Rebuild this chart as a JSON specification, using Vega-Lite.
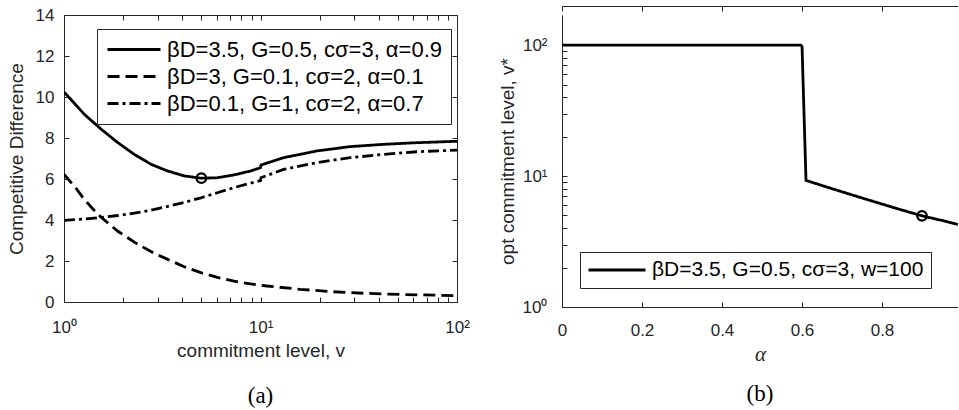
{
  "$schema": "https://vega.github.io/schema/vega-lite/v6.json",
  "background": "white",
  "padding": {"left": 7, "top": 5, "right": 0, "bottom": 0},
  "datasets": {
    "curves": [
      {"s": "βD=3.5, G=0.5, cσ=3, α=0.9", "v": 1, "cd": 10.25},
      {"s": "βD=3.5, G=0.5, cσ=3, α=0.9", "v": 1.27, "cd": 9.15},
      {"s": "βD=3.5, G=0.5, cσ=3, α=0.9", "v": 1.55, "cd": 8.42},
      {"s": "βD=3.5, G=0.5, cσ=3, α=0.9", "v": 1.88, "cd": 7.77},
      {"s": "βD=3.5, G=0.5, cσ=3, α=0.9", "v": 2.28, "cd": 7.2},
      {"s": "βD=3.5, G=0.5, cσ=3, α=0.9", "v": 2.77, "cd": 6.72},
      {"s": "βD=3.5, G=0.5, cσ=3, α=0.9", "v": 3.37, "cd": 6.39},
      {"s": "βD=3.5, G=0.5, cσ=3, α=0.9", "v": 4.09, "cd": 6.15},
      {"s": "βD=3.5, G=0.5, cσ=3, α=0.9", "v": 4.97, "cd": 6.04},
      {"s": "βD=3.5, G=0.5, cσ=3, α=0.9", "v": 6.03, "cd": 6.06},
      {"s": "βD=3.5, G=0.5, cσ=3, α=0.9", "v": 7.33, "cd": 6.2},
      {"s": "βD=3.5, G=0.5, cσ=3, α=0.9", "v": 8.9, "cd": 6.39},
      {"s": "βD=3.5, G=0.5, cσ=3, α=0.9", "v": 10, "cd": 6.55},
      {"s": "βD=3.5, G=0.5, cσ=3, α=0.9", "v": 10.05, "cd": 6.68},
      {"s": "βD=3.5, G=0.5, cσ=3, α=0.9", "v": 13.1, "cd": 7.04},
      {"s": "βD=3.5, G=0.5, cσ=3, α=0.9", "v": 19.4, "cd": 7.37},
      {"s": "βD=3.5, G=0.5, cσ=3, α=0.9", "v": 28.6, "cd": 7.58},
      {"s": "βD=3.5, G=0.5, cσ=3, α=0.9", "v": 42.2, "cd": 7.69},
      {"s": "βD=3.5, G=0.5, cσ=3, α=0.9", "v": 62.2, "cd": 7.77},
      {"s": "βD=3.5, G=0.5, cσ=3, α=0.9", "v": 100, "cd": 7.84},
      {"s": "βD=3, G=0.1, cσ=2, α=0.1", "v": 1, "cd": 6.23},
      {"s": "βD=3, G=0.1, cσ=2, α=0.1", "v": 1.15, "cd": 5.55},
      {"s": "βD=3, G=0.1, cσ=2, α=0.1", "v": 1.27, "cd": 5.0},
      {"s": "βD=3, G=0.1, cσ=2, α=0.1", "v": 1.4, "cd": 4.55},
      {"s": "βD=3, G=0.1, cσ=2, α=0.1", "v": 1.55, "cd": 4.12},
      {"s": "βD=3, G=0.1, cσ=2, α=0.1", "v": 1.88, "cd": 3.45},
      {"s": "βD=3, G=0.1, cσ=2, α=0.1", "v": 2.28, "cd": 2.92},
      {"s": "βD=3, G=0.1, cσ=2, α=0.1", "v": 2.77, "cd": 2.46},
      {"s": "βD=3, G=0.1, cσ=2, α=0.1", "v": 3.37, "cd": 2.08},
      {"s": "βD=3, G=0.1, cσ=2, α=0.1", "v": 4.09, "cd": 1.72},
      {"s": "βD=3, G=0.1, cσ=2, α=0.1", "v": 4.97, "cd": 1.43},
      {"s": "βD=3, G=0.1, cσ=2, α=0.1", "v": 6.03, "cd": 1.2},
      {"s": "βD=3, G=0.1, cσ=2, α=0.1", "v": 7.33, "cd": 1.02},
      {"s": "βD=3, G=0.1, cσ=2, α=0.1", "v": 8.9, "cd": 0.88},
      {"s": "βD=3, G=0.1, cσ=2, α=0.1", "v": 10.8, "cd": 0.78},
      {"s": "βD=3, G=0.1, cσ=2, α=0.1", "v": 15.9, "cd": 0.62},
      {"s": "βD=3, G=0.1, cσ=2, α=0.1", "v": 23.5, "cd": 0.5},
      {"s": "βD=3, G=0.1, cσ=2, α=0.1", "v": 34.7, "cd": 0.42},
      {"s": "βD=3, G=0.1, cσ=2, α=0.1", "v": 51.2, "cd": 0.37},
      {"s": "βD=3, G=0.1, cσ=2, α=0.1", "v": 100, "cd": 0.31},
      {"s": "βD=0.1, G=1, cσ=2, α=0.7", "v": 1, "cd": 3.98},
      {"s": "βD=0.1, G=1, cσ=2, α=0.7", "v": 1.27, "cd": 4.05},
      {"s": "βD=0.1, G=1, cσ=2, α=0.7", "v": 1.55, "cd": 4.13},
      {"s": "βD=0.1, G=1, cσ=2, α=0.7", "v": 1.88, "cd": 4.22},
      {"s": "βD=0.1, G=1, cσ=2, α=0.7", "v": 2.28, "cd": 4.33},
      {"s": "βD=0.1, G=1, cσ=2, α=0.7", "v": 2.77, "cd": 4.48},
      {"s": "βD=0.1, G=1, cσ=2, α=0.7", "v": 3.37, "cd": 4.66},
      {"s": "βD=0.1, G=1, cσ=2, α=0.7", "v": 4.09, "cd": 4.86},
      {"s": "βD=0.1, G=1, cσ=2, α=0.7", "v": 4.97, "cd": 5.08},
      {"s": "βD=0.1, G=1, cσ=2, α=0.7", "v": 6.03, "cd": 5.33},
      {"s": "βD=0.1, G=1, cσ=2, α=0.7", "v": 7.33, "cd": 5.58},
      {"s": "βD=0.1, G=1, cσ=2, α=0.7", "v": 8.9, "cd": 5.8},
      {"s": "βD=0.1, G=1, cσ=2, α=0.7", "v": 10, "cd": 5.92},
      {"s": "βD=0.1, G=1, cσ=2, α=0.7", "v": 10.05, "cd": 6.06},
      {"s": "βD=0.1, G=1, cσ=2, α=0.7", "v": 13.1, "cd": 6.47},
      {"s": "βD=0.1, G=1, cσ=2, α=0.7", "v": 19.4, "cd": 6.8},
      {"s": "βD=0.1, G=1, cσ=2, α=0.7", "v": 28.6, "cd": 7.04},
      {"s": "βD=0.1, G=1, cσ=2, α=0.7", "v": 42.2, "cd": 7.2},
      {"s": "βD=0.1, G=1, cσ=2, α=0.7", "v": 62.2, "cd": 7.33},
      {"s": "βD=0.1, G=1, cσ=2, α=0.7", "v": 100, "cd": 7.41}
    ],
    "minimum": [{"v": 5, "cd": 6.04}],
    "optimal": [
      {"s": "βD=3.5, G=0.5, cσ=3, w=100", "alpha": 0, "vstar": 100},
      {"s": "βD=3.5, G=0.5, cσ=3, w=100", "alpha": 0.6, "vstar": 100},
      {"s": "βD=3.5, G=0.5, cσ=3, w=100", "alpha": 0.61, "vstar": 9.27},
      {"s": "βD=3.5, G=0.5, cσ=3, w=100", "alpha": 0.674, "vstar": 8.03},
      {"s": "βD=3.5, G=0.5, cσ=3, w=100", "alpha": 0.749, "vstar": 6.82},
      {"s": "βD=3.5, G=0.5, cσ=3, w=100", "alpha": 0.832, "vstar": 5.71},
      {"s": "βD=3.5, G=0.5, cσ=3, w=100", "alpha": 0.9, "vstar": 4.97},
      {"s": "βD=3.5, G=0.5, cσ=3, w=100", "alpha": 0.95, "vstar": 4.58},
      {"s": "βD=3.5, G=0.5, cσ=3, w=100", "alpha": 0.99, "vstar": 4.27}
    ],
    "chosen": [{"alpha": 0.9, "vstar": 4.97}]
  },
  "hconcat": [
    {
      "width": 393,
      "height": 287,
      "title": {"text": "(a)", "orient": "bottom", "font": "Liberation Serif", "fontSize": 23, "fontWeight": "normal", "color": "black", "offset": 25},
      "layer": [
        {
          "data": {"name": "curves"},
          "mark": {"type": "line", "strokeWidth": 2.8, "color": "black", "clip": true},
          "encoding": {
            "x": {
              "field": "v", "type": "quantitative",
              "scale": {"type": "log", "domain": [1, 100], "nice": false},
              "axis": {
                "orient": "bottom", "title": "commitment level, v",
                "values": [1, 2, 3, 4, 5, 6, 7, 8, 9, 10, 20, 30, 40, 50, 60, 70, 80, 90, 100],
                "labelExpr": "datum.value == 1 ? '10⁰' : datum.value == 10 ? '10¹' : datum.value == 100 ? '10²' : ''",
                "labelOverlap": false, "labelFlush": false, "labelPadding": 22, "titlePadding": 6,
                "encode": {"ticks": {"y2": {"value": {"signal": "indexof([1, 10, 100], datum.value) >= 0 ? -6 : -3.5"}}}}
              }
            },
            "y": {
              "field": "cd", "type": "quantitative",
              "scale": {"domain": [0, 14], "nice": false},
              "axis": {
                "orient": "left", "title": "Competitive Difference",
                "values": [0, 2, 4, 6, 8, 10, 12, 14],
                "labelPadding": 15, "titlePadding": 9
              }
            },
            "strokeDash": {
              "field": "s", "type": "nominal",
              "scale": {
                "domain": ["βD=3.5, G=0.5, cσ=3, α=0.9", "βD=3, G=0.1, cσ=2, α=0.1", "βD=0.1, G=1, cσ=2, α=0.7"],
                "range": [[1, 0], [12, 6], [11, 4, 3, 4]]
              },
              "legend": {
                "title": null, "orient": "none", "legendX": 33, "legendY": 14,
                "symbolType": "stroke", "symbolSize": 2809, "symbolStrokeWidth": 2.8,
                "symbolStrokeColor": "black", "labelFontSize": 22, "labelColor": "black", "labelLimit": 0,
                "labelOffset": 5, "padding": 9, "rowPadding": 4, "clipHeight": 23,
                "fillColor": "white", "strokeColor": "#262626"
              }
            }
          }
        },
        {
          "data": {"name": "minimum"},
          "mark": {"type": "point", "shape": "circle", "size": 90, "strokeWidth": 2.3, "color": "black", "filled": false, "opacity": 1},
          "encoding": {
            "x": {
              "field": "v", "type": "quantitative",
              "scale": {"type": "log", "domain": [1, 100], "nice": false},
              "axis": {
                "orient": "top", "title": null, "labels": false,
                "values": [1, 2, 3, 4, 5, 6, 7, 8, 9, 10, 20, 30, 40, 50, 60, 70, 80, 90, 100],
                "encode": {"ticks": {"y2": {"value": {"signal": "indexof([1, 10, 100], datum.value) >= 0 ? 6 : 3.5"}}}}
              }
            },
            "y": {
              "field": "cd", "type": "quantitative",
              "scale": {"domain": [0, 14], "nice": false},
              "axis": {"orient": "right", "title": null, "labels": false, "values": [0, 2, 4, 6, 8, 10, 12, 14]}
            }
          }
        }
      ],
      "resolve": {"scale": {"x": "independent", "y": "independent"}}
    },
    {
      "width": 396,
      "height": 292,
      "title": {"text": "(b)", "orient": "bottom", "font": "Liberation Serif", "fontSize": 23, "fontWeight": "normal", "color": "black", "offset": 19},
      "layer": [
        {
          "data": {"name": "optimal"},
          "mark": {"type": "line", "strokeWidth": 2.8, "color": "black", "clip": true},
          "encoding": {
            "x": {
              "field": "alpha", "type": "quantitative",
              "scale": {"domain": [0, 0.99], "nice": false},
              "axis": {
                "orient": "bottom", "title": "α", "titleFont": "Liberation Serif", "titleFontStyle": "italic", "titleFontSize": 21,
                "values": [0, 0.2, 0.4, 0.6, 0.8], "format": "~g",
                "labelFlush": false, "labelPadding": 20, "titlePadding": 5
              }
            },
            "y": {
              "field": "vstar", "type": "quantitative",
              "scale": {"type": "log", "domain": [1, 170], "nice": false},
              "axis": {
                "orient": "left", "title": "opt commitment level, v*",
                "values": [1, 2, 3, 4, 5, 6, 7, 8, 9, 10, 20, 30, 40, 50, 60, 70, 80, 90, 100],
                "labelExpr": "datum.value == 1 ? '10⁰' : datum.value == 10 ? '10¹' : datum.value == 100 ? '10²' : ''",
                "labelOverlap": false, "labelFlush": false, "labelPadding": 20, "titlePadding": 5,
                "encode": {
                  "ticks": {"x2": {"value": {"signal": "indexof([1, 10, 100], datum.value) >= 0 ? 6 : 3.5"}}},
                  "domain": {"y2": {"value": -9}}
                }
              }
            },
            "strokeDash": {
              "field": "s", "type": "nominal",
              "scale": {"domain": ["βD=3.5, G=0.5, cσ=3, w=100"], "range": [[1, 0]]},
              "legend": {
                "title": null, "orient": "none", "legendX": 18, "legendY": 237,
                "symbolType": "stroke", "symbolSize": 3249, "symbolStrokeWidth": 2.8,
                "symbolStrokeColor": "black", "labelFontSize": 21, "labelColor": "black", "labelLimit": 0,
                "labelOffset": 5, "padding": 7, "clipHeight": 22,
                "fillColor": "white", "strokeColor": "#262626"
              }
            }
          }
        },
        {
          "data": {"name": "chosen"},
          "mark": {"type": "point", "shape": "circle", "size": 90, "strokeWidth": 2.3, "color": "black", "filled": false, "opacity": 1},
          "encoding": {
            "x": {
              "field": "alpha", "type": "quantitative",
              "scale": {"domain": [0, 0.99], "nice": false},
              "axis": {"orient": "top", "title": null, "labels": false, "offset": 9, "values": [0, 0.2, 0.4, 0.6, 0.8]}
            },
            "y": {
              "field": "vstar", "type": "quantitative",
              "scale": {"type": "log", "domain": [1, 170], "nice": false}
            }
          }
        }
      ],
      "resolve": {"scale": {"x": "independent"}}
    }
  ],
  "spacing": 28,
  "resolve": {"scale": {"strokeDash": "independent"}},
  "config": {
    "view": {"stroke": null},
    "font": "Liberation Sans",
    "axis": {
      "grid": false,
      "domainColor": "#262626", "tickColor": "#262626", "labelColor": "#262626", "titleColor": "#262626",
      "labelFont": "Liberation Sans", "titleFont": "Liberation Sans",
      "labelFontSize": 17, "titleFontSize": 19, "titleFontWeight": "normal",
      "tickSize": -5, "tickWidth": 1, "domainWidth": 1
    }
  }
}
